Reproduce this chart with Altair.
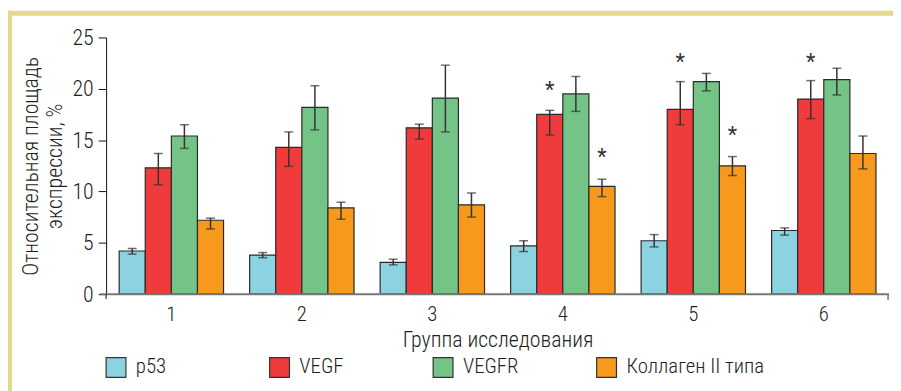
import altair as alt
import pandas as pd

groups = ["1", "2", "3", "4", "5", "6"]
series = ["p53", "VEGF", "VEGFR", "Коллаген II типа"]
colors = ["#8cd3e1", "#ef3b3c", "#75c487", "#f7991d"]

p53_mean = [4.2, 3.8, 3.1, 4.7, 5.2, 6.2]
p53_lo = [3.9, 3.55, 2.85, 4.15, 4.6, 5.75]
p53_hi = [4.45, 4.05, 3.4, 5.2, 5.8, 6.45]

vegf_mean = [12.3, 14.3, 16.2, 17.5, 18.0, 19.0]
vegf_lo = [10.65, 12.45, 15.1, 15.5, 16.5, 17.1]
vegf_hi = [13.7, 15.8, 16.55, 17.9, 20.7, 20.8]

vegfr_mean = [15.4, 18.2, 19.1, 19.5, 20.7, 20.9]
vegfr_lo = [14.2, 16.0, 15.8, 17.8, 19.8, 19.4]
vegfr_hi = [16.5, 20.3, 22.3, 21.2, 21.5, 22.0]

col_mean = [7.2, 8.4, 8.7, 10.5, 12.5, 13.7]
col_lo = [6.35, 7.3, 7.5, 9.5, 11.55, 12.2]
col_hi = [7.4, 8.95, 9.85, 11.2, 13.4, 15.4]

star_group = ["4", "4", "5", "5", "6"]
star_series = ["VEGF", "Коллаген II типа", "VEGF", "Коллаген II типа", "VEGF"]
star_y = [20.4, 13.8, 23.1, 16.0, 23.1]

y_ticks = [0, 5, 10, 15, 20, 25]

rows = []
for name, m, lo, hi in zip(series,
                           [p53_mean, vegf_mean, vegfr_mean, col_mean],
                           [p53_lo, vegf_lo, vegfr_lo, col_lo],
                           [p53_hi, vegf_hi, vegfr_hi, col_hi]):
    for g, a, b, c in zip(groups, m, lo, hi):
        rows.append({"group": g, "series": name, "mean": a, "lo": b, "hi": c})
df = pd.DataFrame(rows)
stars_df = pd.DataFrame({"group": star_group, "series": star_series, "y": star_y})
leg_df = pd.DataFrame({"series": series})
one = pd.DataFrame({"a": [0]})

W, H = 790, 259
TXT = "#231f20"
FW = 300
FONT = "'Roboto Condensed', 'Liberation Sans Narrow', 'DejaVu Sans Condensed', 'Liberation Sans', sans-serif"

cscale = alt.Scale(domain=series, range=colors)
yscale = alt.Scale(domain=[0, 25], nice=False)
yaxis = alt.Axis(values=y_ticks, title=["Относительная площадь", "экспрессии, %"],
                 grid=False, domainColor="#111", domainWidth=1, tickColor="#111",
                 tickSize=8, tickWidth=1, labelFontSize=22, labelColor=TXT,
                 labelPadding=5, titleFontSize=22, titleFontWeight=FW, labelFontWeight=FW,
                 titleColor=TXT, titlePadding=6, titleLineHeight=24,
                 labelFont=FONT, titleFont=FONT)
xaxis = alt.Axis(title="Группа исследования", labelAngle=0, ticks=False, domain=False,
                 labelFontSize=21, titleFontSize=22, labelPadding=10, titlePadding=5,
                 labelColor=TXT, titleColor=TXT, titleFontWeight=FW, labelFontWeight=FW,
                 labelFont=FONT, titleFont=FONT)

X = alt.X("group:N", scale=alt.Scale(domain=groups, paddingInner=0.2, paddingOuter=0.1), axis=xaxis)
XO = alt.XOffset("series:N", scale=alt.Scale(domain=series, paddingInner=0, paddingOuter=0))

bars = alt.Chart(df).mark_bar(stroke="#2a2a2a", strokeWidth=1.2).encode(
    x=X, xOffset=XO,
    y=alt.Y("mean:Q", scale=yscale, axis=yaxis),
    color=alt.Color("series:N", scale=cscale, legend=None),
)
err = alt.Chart(df).mark_rule(color="#333", strokeWidth=1.5).encode(
    x=X, xOffset=XO, y=alt.Y("lo:Q", scale=yscale, axis=yaxis), y2="hi:Q")
cap_lo = alt.Chart(df).mark_tick(color="#333", thickness=1.5, size=9, orient="horizontal").encode(
    x=X, xOffset=XO, y=alt.Y("lo:Q", scale=yscale, axis=yaxis))
cap_hi = alt.Chart(df).mark_tick(color="#333", thickness=1.5, size=9, orient="horizontal").encode(
    x=X, xOffset=XO, y=alt.Y("hi:Q", scale=yscale, axis=yaxis))
stars = alt.Chart(stars_df).mark_text(text="*", fontSize=22, color="#333", font=FONT,
                                      baseline="alphabetic", dy=12).encode(
    x=X, xOffset=XO, y=alt.Y("y:Q", scale=yscale, axis=yaxis))

zero_line = alt.Chart(one).mark_rule(color="#777", strokeWidth=2).encode(
    x=alt.value(-6), x2=alt.value(W), y=alt.value(H))
right_tick = alt.Chart(one).mark_rule(color="#777", strokeWidth=1.5).encode(
    x=alt.value(W - 1), y=alt.value(H), y2=alt.value(H + 6))
y_ext = alt.Chart(one).mark_rule(color="#111", strokeWidth=1).encode(
    x=alt.value(0), y=alt.value(H), y2=alt.value(H + 5))

border_top = alt.Chart(one).mark_rule(color="#e3d88c", strokeWidth=5).encode(
    x=alt.value(-100), x2=alt.value(W + 10), y=alt.value(-24.5))
border_left = alt.Chart(one).mark_rule(color="#e3d88c", strokeWidth=6).encode(
    x=alt.value(-98), y=alt.value(-27), y2=alt.value(H + 100))

main = alt.layer(border_top, border_left, bars, err, cap_lo, cap_hi, stars,
                 zero_line, right_tick, y_ext)

LX = alt.X("series:N", scale=alt.Scale(domain=series, range=[10, 505], padding=0), axis=None)
leg_sq = alt.Chart(leg_df).mark_square(size=400, stroke="#333", strokeWidth=1.2,
                                       opacity=1, filled=True).encode(
    x=LX, y=alt.value(333), color=alt.Color("series:N", scale=cscale, legend=None))
leg_txt = alt.Chart(leg_df).mark_text(align="left", baseline="middle", dx=20,
                                      fontSize=21, color=TXT, font=FONT, fontWeight=FW).encode(
    x=LX, y=alt.value(333), text="series:N")
legend = alt.layer(leg_sq, leg_txt)

chart = alt.layer(main, legend).resolve_scale(x="independent").properties(
    width=W, height=H,
    autosize=alt.AutoSizeParams(type="none"),
    padding={"left": 99, "top": 28, "right": 4, "bottom": 96},
).configure(font=FONT).configure_view(stroke=None)

chart.save("out.html", embed_options={"renderer": "svg", "actions": False})
